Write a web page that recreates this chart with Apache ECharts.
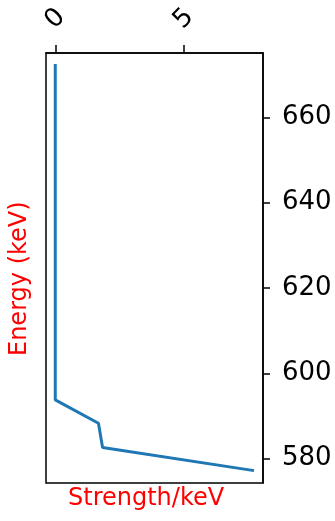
<!DOCTYPE html>
<html>
<head>
<meta charset="utf-8">
<script src="https://cdn.jsdelivr.net/npm/echarts@6/dist/echarts.min.js"></script>
<style>
  html, body { margin: 0; padding: 0; background: #fff; }
  #chart { width: 335px; height: 521px; }
</style>
</head>
<body>
<div id="chart"></div>
<script>
// 数据点 (strength, energy)
const strength = [0, 0, 1.68, 1.84, 7.73];
const energy = [672.5, 593.8, 588.3, 582.6, 577.2];
const xTicks = [0, 5];
const yTicks = [580, 600, 620, 640, 660];

const chart = echarts.init(document.getElementById('chart'), null, { renderer: 'canvas' });

const font = 'DejaVu Sans';
const option = {
  backgroundColor: '#ffffff',
  animation: false,
  grid: {
    left: 46, right: 72, top: 53, bottom: 38,
    show: true, borderColor: '#000', borderWidth: 1.5
  },
  xAxis: {
    type: 'value',
    position: 'top',
    min: -0.36,
    max: 8.08,
    splitLine: { show: false },
    axisLine: { show: true, onZero: false, lineStyle: { color: '#000', width: 1.5 } },
    axisTick: { show: true, length: 8, lineStyle: { color: '#000', width: 1.5 }, customValues: xTicks },
    axisLabel: {
      customValues: xTicks,
      rotate: -45,
      align: 'center',
      verticalAlign: 'middle',
      margin: 34,
      fontFamily: font, fontSize: 26, color: '#000'
    }
  },
  yAxis: {
    type: 'value',
    position: 'right',
    min: 574.3,
    max: 675.1,
    splitLine: { show: false },
    axisLine: { show: true, onZero: false, lineStyle: { color: '#000', width: 1.5 } },
    axisTick: { show: true, length: 7, lineStyle: { color: '#000', width: 1.5 }, customValues: yTicks },
    axisLabel: {
      customValues: yTicks,
      margin: 19,
      fontFamily: font, fontSize: 26, color: '#000'
    }
  },
  graphic: [
    {
      type: 'text',
      left: 68, top: 487,
      style: { text: 'Strength/keV', fill: '#ff0000', font: '24px "DejaVu Sans"' }
    },
    {
      type: 'text',
      x: 8, y: 356,
      rotation: Math.PI / 2,
      style: { text: 'Energy (keV)', fill: '#ff0000', font: '24px "DejaVu Sans"' }
    }
  ],
  series: [{
    type: 'line',
    data: strength.map((s, i) => [s, energy[i]]),
    symbol: 'none',
    lineStyle: { color: '#1f77b4', width: 3 }
  }]
};

chart.setOption(option);
</script>
</body>
</html>
